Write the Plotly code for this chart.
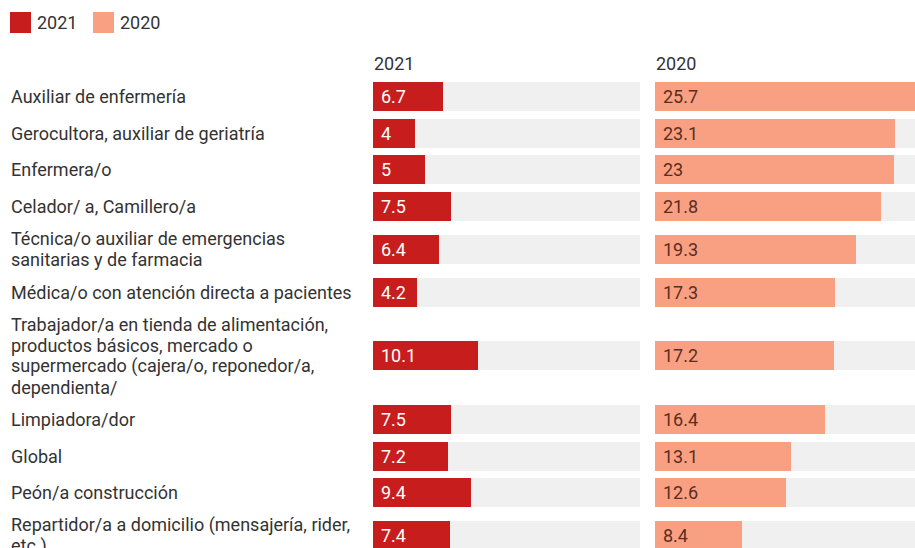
import plotly.graph_objects as go

# datos
categorias = [
    "Auxiliar de enfermería",
    "Gerocultora, auxiliar de geriatría",
    "Enfermera/o",
    "Celador/ a, Camillero/a",
    "Técnica/o auxiliar de emergencias<br>sanitarias y de farmacia",
    "Médica/o con atención directa a pacientes",
    "Trabajador/a en tienda de alimentación,<br>productos básicos, mercado o<br>supermercado (cajera/o, reponedor/a,<br>dependienta/",
    "Limpiadora/dor",
    "Global",
    "Peón/a construcción",
    "Repartidor/a a domicilio (mensajería, rider,<br>etc.)",
]
v2021 = [6.7, 4, 5, 7.5, 6.4, 4.2, 10.1, 7.5, 7.2, 9.4, 7.4]
v2020 = [25.7, 23.1, 23, 21.8, 19.3, 17.3, 17.2, 16.4, 13.1, 12.6, 8.4]
series = ["2021", "2020"]

ROJO = "#c71e1d"
SALMON = "#f9a083"
GRIS = "#f0f0f0"
TXT = "#333333"
FONT = "Roboto"
W, H = 915, 548
FS = 18
LH = 21  # interlineado de las etiquetas

# alto de cada fila según las líneas de la etiqueta
bar_h = 29
alturas = [max(bar_h, (c.count("<br>") + 1) * 20.8) + 7.6 for c in categorias]
centros = []
y = 78.2
for h in alturas:
    centros.append(y + h / 2)
    y += h

xmax = max(v2020 + v2021)
c1 = (373, 640)
c2 = (655, 915)
# la segunda columna queda cortada por el borde derecho
xmax2 = xmax * (c2[1] - c2[0]) / (c1[1] - c1[0])

fig = go.Figure()
for vals, color, xa, top in [(v2021, ROJO, "x", xmax), (v2020, SALMON, "x2", xmax2)]:
    fig.add_trace(go.Bar(x=[top] * len(vals), y=centros, orientation="h", width=bar_h,
                         marker=dict(color=GRIS, line_width=0), xaxis=xa, hoverinfo="skip"))
    fig.add_trace(go.Bar(x=vals, y=centros, orientation="h", width=bar_h,
                         marker=dict(color=color, line_width=0), xaxis=xa))

ann = []
for c, yc, a, b in zip(categorias, centros, v2021, v2020):
    lineas = c.split("<br>")
    n = len(lineas)
    for i, l in enumerate(lineas):
        ann.append(dict(text=l, x=9 / W, xref="paper", y=yc + (i - (n - 1) / 2) * LH, yref="y",
                        xanchor="left", yanchor="middle", align="left", showarrow=False,
                        font=dict(size=FS, color=TXT)))
    ann.append(dict(text=str(a), x=0, xref="x", xshift=6, y=yc, yref="y", xanchor="left",
                    yanchor="middle", showarrow=False, font=dict(size=FS, color="white")))
    ann.append(dict(text=str(b), x=0, xref="x2", xshift=6, y=yc, yref="y", xanchor="left",
                    yanchor="middle", showarrow=False, font=dict(size=FS, color="#5a2e22")))

# cabeceras de columna
for s, xa in zip(series, ["x", "x2"]):
    ann.append(dict(text=s, x=0, xref=xa, xshift=-1, y=63, yref="y", xanchor="left",
                    yanchor="middle", showarrow=False, font=dict(size=FS, color=TXT)))

# leyenda
shapes = []
lx = 10
for s, color in zip(series, [ROJO, SALMON]):
    shapes.append(dict(type="rect", xref="paper", yref="y", x0=lx / W, x1=(lx + 21) / W,
                       y0=12, y1=33, fillcolor=color, line_width=0))
    ann.append(dict(text=s, x=(lx + 25) / W, xref="paper", y=22, yref="y", xanchor="left",
                    yanchor="middle", showarrow=False, font=dict(size=FS, color=TXT)))
    lx += 83

fig.update_layout(
    width=W, height=H,
    margin=dict(l=0, r=0, t=0, b=0),
    paper_bgcolor="white", plot_bgcolor="white",
    barmode="overlay", bargap=0, showlegend=False,
    font=dict(family=FONT, color=TXT),
    xaxis=dict(domain=[c1[0] / W, c1[1] / W], range=[0, xmax], visible=False, fixedrange=True),
    xaxis2=dict(domain=[c2[0] / W, c2[1] / W], range=[0, xmax2], visible=False, fixedrange=True),
    yaxis=dict(range=[H, 0], domain=[0, 1], visible=False, fixedrange=True),
    annotations=ann, shapes=shapes,
)

fig.write_html("out.html", config={"displayModeBar": False},
               post_script="document.body.style.margin='0';document.body.style.overflow='hidden';")
